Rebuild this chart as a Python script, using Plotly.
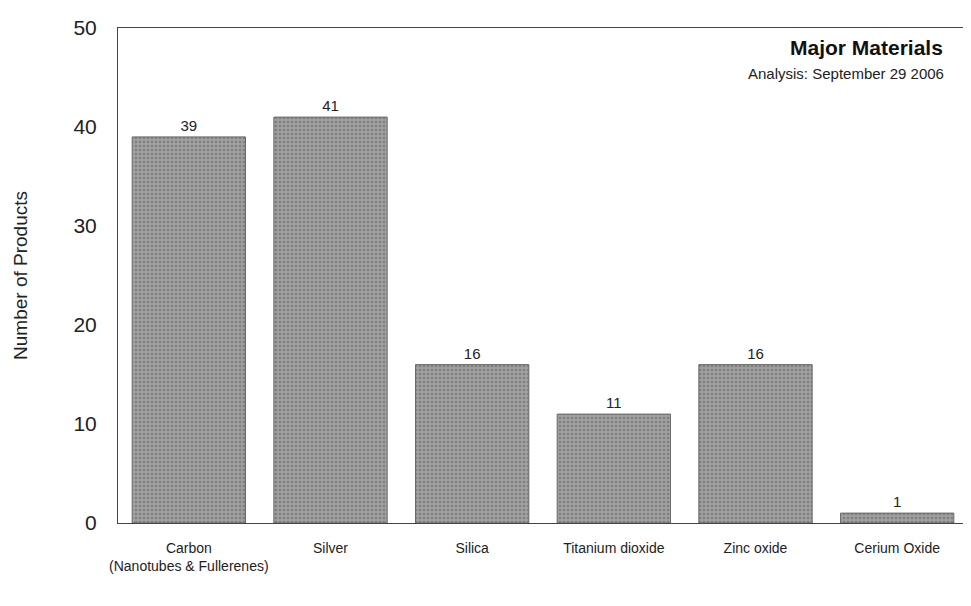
import plotly.graph_objects as go

categories = ["Carbon<br>(Nanotubes & Fullerenes)", "Silver", "Silica",
              "Titanium dioxide", "Zinc oxide", "Cerium Oxide"]
products = [39, 41, 16, 11, 16, 1]
y_ticks = [0, 10, 20, 30, 40, 50]

FONT = "Liberation Sans, Arial, sans-serif"

fig = go.Figure()
fig.add_trace(go.Bar(
    x=categories, y=products,
    text=[str(v) for v in products], textposition="outside",
    textfont=dict(size=15, color="#222"),
    cliponaxis=False,
    marker=dict(color="#8e8e8e", line=dict(color="#6a6a6a", width=1),
                pattern=dict(shape=".", fgcolor="#5e5e5e", bgcolor="#a0a0a0",
                             size=4, solidity=0.35)),
))

fig.update_layout(
    width=963, height=598,
    margin=dict(l=110, r=3, t=20, b=83),
    paper_bgcolor="white", plot_bgcolor="white",
    font=dict(family=FONT, color="#222"),
    bargap=0.2,
    showlegend=False,
    xaxis=dict(showline=True, linecolor="#444", linewidth=1, mirror=True,
               tickfont=dict(size=14), ticks="", showgrid=False,
               automargin=False, ticklabelstandoff=12),
    yaxis=dict(range=[0, 50], tickvals=y_ticks, showgrid=False, zeroline=False,
               showline=True, linecolor="#444", linewidth=1,
               ticks="", ticklabelstandoff=16, automargin=False,
               tickfont=dict(size=21),
               title=dict(text="Number of Products", font=dict(size=19), standoff=40)),
    annotations=[
        dict(text="<b>Major Materials</b>", xref="paper", yref="paper",
             x=0.973, y=0.96, xanchor="right", yanchor="middle",
             showarrow=False, font=dict(size=21, color="#111")),
        dict(text="Analysis: September 29 2006", xref="paper", yref="paper",
             x=0.974, y=0.909, xanchor="right", yanchor="middle",
             showarrow=False, font=dict(size=15, color="#222")),
    ],
)

fig.write_html("out.html")
